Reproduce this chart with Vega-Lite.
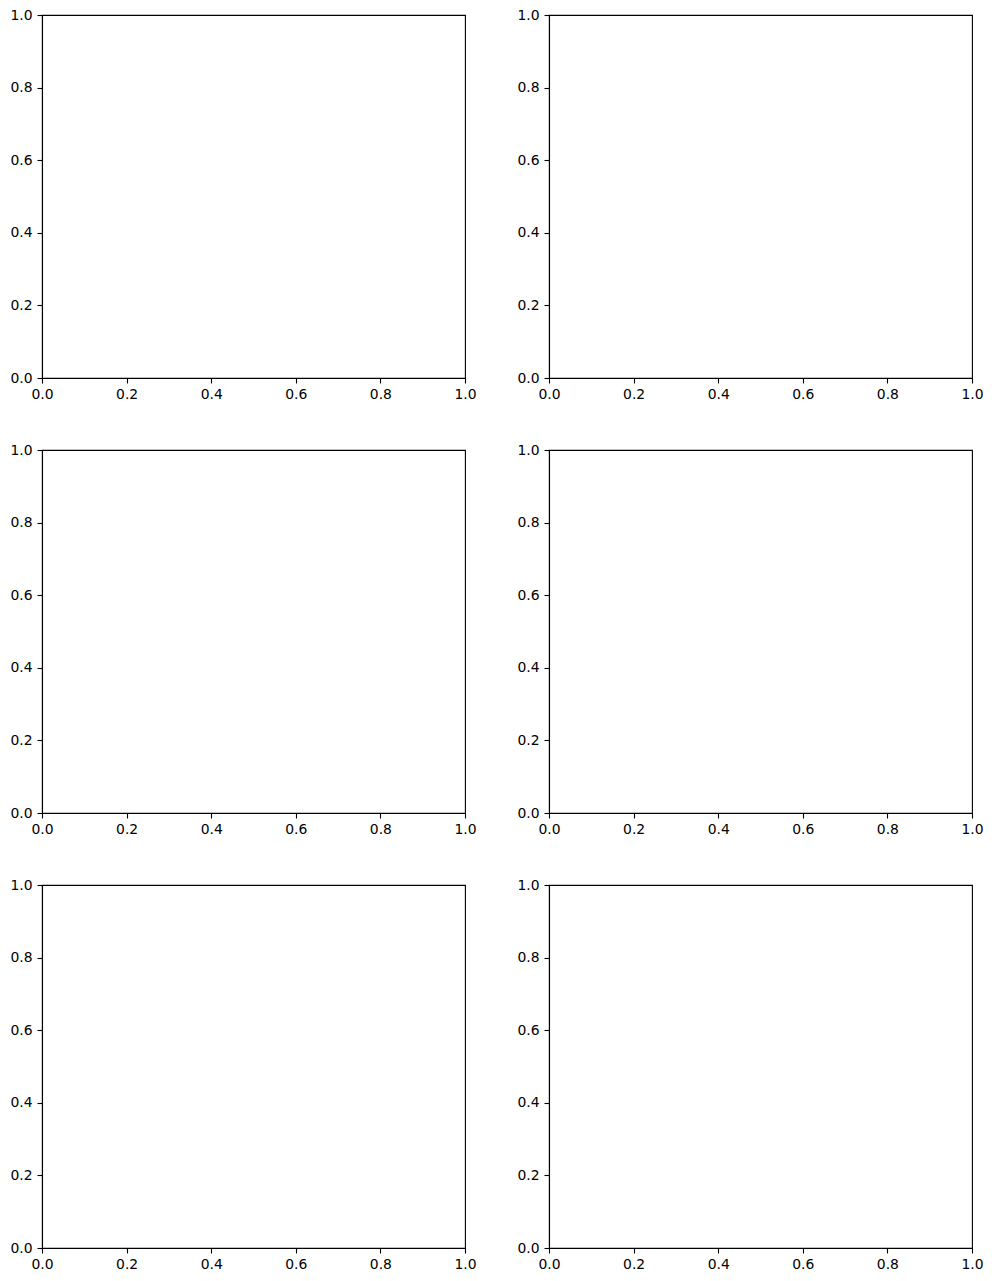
{
  "$schema": "https://vega.github.io/schema/vega-lite/v6.json",
  "background": "white",
  "padding": {"left": 9, "top": 7, "right": 5, "bottom": 5},
  "datasets": {"empty": []},
  "config": {
    "view": {"stroke": "black", "strokeWidth": 1.1},
    "axis": {
      "grid": false,
      "domainColor": "black",
      "domainWidth": 1.1,
      "tickColor": "black",
      "tickWidth": 1.1,
      "tickSize": 5,
      "labelPadding": 5,
      "labelFont": "DejaVu Sans",
      "labelFontSize": 13.9,
      "labelColor": "black",
      "labelFlush": false,
      "labelOverlap": false,
      "title": null
    },
    "axisX": {"labelPadding": 4}
  },
  "columns": 2,
  "spacing": {"row": 72, "column": 84},
  "bounds": "flush",
  "concat": [
    {"width": 423, "height": 363, "data": {"name": "empty"}, "mark": {"type": "point", "opacity": 0},
     "encoding": {"x": {"field": "x", "type": "quantitative", "scale": {"domain": [0, 1], "nice": false, "zero": false}, "axis": {"values": [0, 0.2, 0.4, 0.6, 0.8, 1], "format": ".1f"}},
                  "y": {"field": "y", "type": "quantitative", "scale": {"domain": [0, 1], "nice": false, "zero": false}, "axis": {"values": [0, 0.2, 0.4, 0.6, 0.8, 1], "format": ".1f"}}}},
    {"width": 423, "height": 363, "data": {"name": "empty"}, "mark": {"type": "point", "opacity": 0},
     "encoding": {"x": {"field": "x", "type": "quantitative", "scale": {"domain": [0, 1], "nice": false, "zero": false}, "axis": {"values": [0, 0.2, 0.4, 0.6, 0.8, 1], "format": ".1f"}},
                  "y": {"field": "y", "type": "quantitative", "scale": {"domain": [0, 1], "nice": false, "zero": false}, "axis": {"values": [0, 0.2, 0.4, 0.6, 0.8, 1], "format": ".1f"}}}},
    {"width": 423, "height": 363, "data": {"name": "empty"}, "mark": {"type": "point", "opacity": 0},
     "encoding": {"x": {"field": "x", "type": "quantitative", "scale": {"domain": [0, 1], "nice": false, "zero": false}, "axis": {"values": [0, 0.2, 0.4, 0.6, 0.8, 1], "format": ".1f"}},
                  "y": {"field": "y", "type": "quantitative", "scale": {"domain": [0, 1], "nice": false, "zero": false}, "axis": {"values": [0, 0.2, 0.4, 0.6, 0.8, 1], "format": ".1f"}}}},
    {"width": 423, "height": 363, "data": {"name": "empty"}, "mark": {"type": "point", "opacity": 0},
     "encoding": {"x": {"field": "x", "type": "quantitative", "scale": {"domain": [0, 1], "nice": false, "zero": false}, "axis": {"values": [0, 0.2, 0.4, 0.6, 0.8, 1], "format": ".1f"}},
                  "y": {"field": "y", "type": "quantitative", "scale": {"domain": [0, 1], "nice": false, "zero": false}, "axis": {"values": [0, 0.2, 0.4, 0.6, 0.8, 1], "format": ".1f"}}}},
    {"width": 423, "height": 363, "data": {"name": "empty"}, "mark": {"type": "point", "opacity": 0},
     "encoding": {"x": {"field": "x", "type": "quantitative", "scale": {"domain": [0, 1], "nice": false, "zero": false}, "axis": {"values": [0, 0.2, 0.4, 0.6, 0.8, 1], "format": ".1f"}},
                  "y": {"field": "y", "type": "quantitative", "scale": {"domain": [0, 1], "nice": false, "zero": false}, "axis": {"values": [0, 0.2, 0.4, 0.6, 0.8, 1], "format": ".1f"}}}},
    {"width": 423, "height": 363, "data": {"name": "empty"}, "mark": {"type": "point", "opacity": 0},
     "encoding": {"x": {"field": "x", "type": "quantitative", "scale": {"domain": [0, 1], "nice": false, "zero": false}, "axis": {"values": [0, 0.2, 0.4, 0.6, 0.8, 1], "format": ".1f"}},
                  "y": {"field": "y", "type": "quantitative", "scale": {"domain": [0, 1], "nice": false, "zero": false}, "axis": {"values": [0, 0.2, 0.4, 0.6, 0.8, 1], "format": ".1f"}}}}
  ]
}
